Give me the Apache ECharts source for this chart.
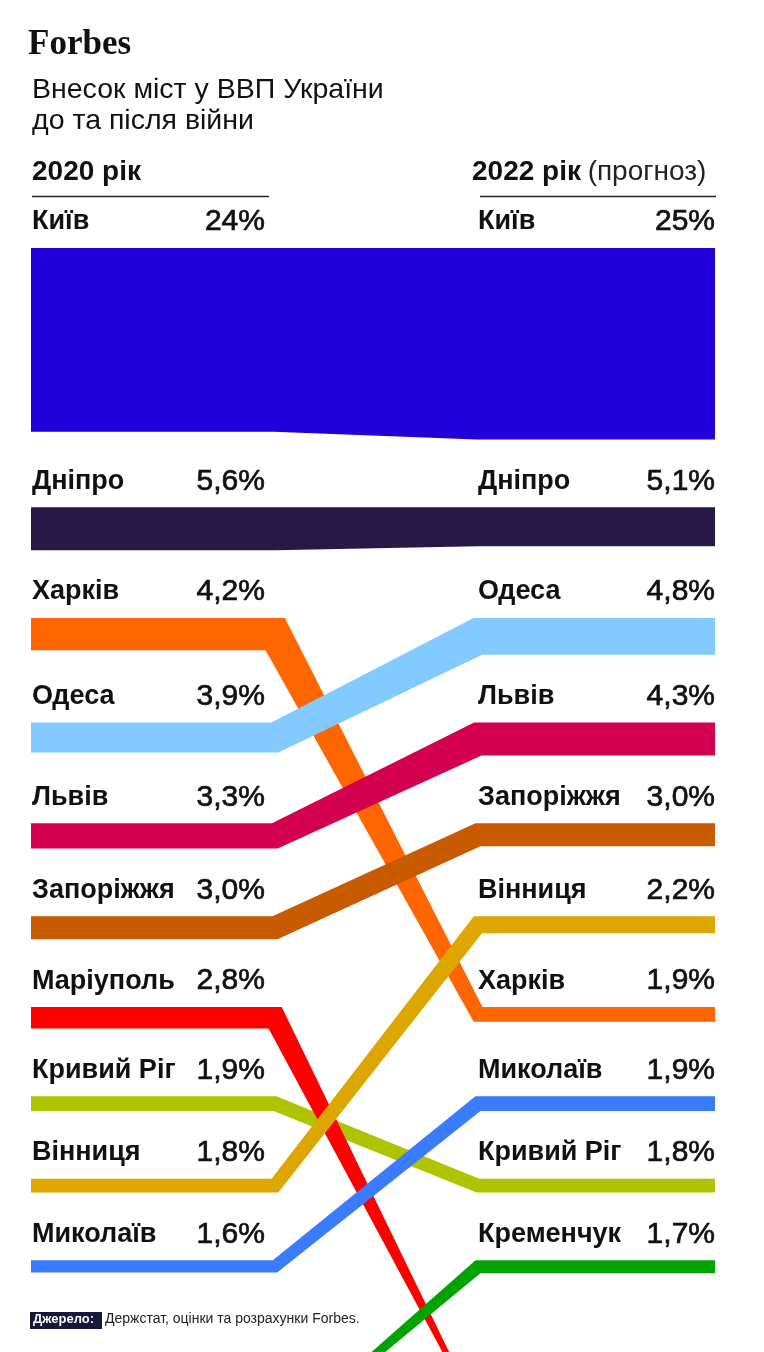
<!DOCTYPE html>
<html>
<head>
<meta charset="utf-8">
<script src="https://cdn.jsdelivr.net/npm/echarts@6/dist/echarts.min.js"></script>
<style>
html,body{margin:0;padding:0;background:#ffffff;}
#chart{width:764px;height:1352px;}
</style>
</head>
<body>
<div id="chart"></div>
<script>
// ---------------- DATA ----------------
const cities    = ['Київ','Дніпро','Харків','Одеса','Львів','Запоріжжя','Маріуполь','Кривий Ріг','Вінниця','Миколаїв','Кременчук'];
// share of Ukraine's GDP, %
const share2020 = [24, 5.6, 4.2, 3.9, 3.3, 3.0, 2.8, 1.9, 1.8, 1.6, 0.6];   // Кременчук 2020: not labelled, estimated from band width
const share2022 = [25, 5.1, 1.9, 4.8, 4.3, 3.0, 0.4, 1.8, 2.2, 1.9, 1.7];   // Маріуполь 2022: not labelled, estimated from band width
// position in the top-10 list (null = not in list, band runs off the chart)
const rank2020  = [1, 2, 3, 4, 5, 6, 7, 8, 9, 10, null];
const rank2022  = [1, 2, 7, 3, 4, 5, null, 9, 6, 8, 10];
const yearLabels = ['2020 рік', '2022 рік'];

// ---------------- STYLE / LAYOUT ----------------
const cityColors = {
  'Київ':'#2200D9','Дніпро':'#281846','Харків':'#FF6600','Одеса':'#82CAFF','Львів':'#D2004F',
  'Запоріжжя':'#C85A00','Маріуполь':'#FF0000','Кривий Ріг':'#AEC400','Вінниця':'#DDA600',
  'Миколаїв':'#3A7BFF','Кременчук':'#00A300'
};
// drawing order (later = on top)
const drawOrder = ['Київ','Дніпро','Харків','Кривий Ріг','Маріуполь','Одеса','Львів','Запоріжжя','Вінниця','Миколаїв','Кременчук'];

const PX_PER_UNIT = 7.66;     // pixels per 1 percentage point of band thickness
const GAP = 8.85;             // space (in % units) between consecutive bands for labels
const OFF_EXTRA = 3.2;        // extra drop for bands entering from below the list
const GRID_TOP = 248, GRID_LEFT = 31, GRID_RIGHT = 49;
const BEND_L = 35.67, BEND_R = 65.35;   // x-axis positions (0..100) where bands start/finish crossing
const PCT_L_X = 34.2, NAME_R_X = 65.35, PCT_R_X = 100;
const LABEL_RISE = 26;        // px from band top up to label middle
const NAME_FONT = 'bold 27px "Liberation Sans", Arial, sans-serif';
const PCT_FONT = '30px "Liberation Sans", Arial, sans-serif';

// ---------------- LAYOUT FROM DATA ----------------
const n = cities.length;
const maxRank = 10;
const slotOccL = [], slotOccR = [];
for (let i = 0; i < n; i++) {
  if (rank2020[i] != null) slotOccL[rank2020[i]-1] = i;
  if (rank2022[i] != null) slotOccR[rank2022[i]-1] = i;
}
const slotTop = [0];
for (let k = 0; k < maxRank; k++) {
  const a = slotOccL[k] != null ? share2020[slotOccL[k]] : 0;
  const b = slotOccR[k] != null ? share2022[slotOccR[k]] : 0;
  slotTop.push(slotTop[k] + Math.max(a, b) + GAP);
}
// off-list slot (below the visible list)
const offL = [], offR = [];
for (let i = 0; i < n; i++) { if (rank2020[i] == null) offL.push(share2020[i]); if (rank2022[i] == null) offR.push(share2022[i]); }
const offTop = slotTop[maxRank] + Math.max(...offL, ...offR) + GAP;

function fmt(v) { return (v >= 10 ? String(v) : v.toFixed(1).replace('.', ',')) + '%'; }

const bandData = drawOrder.map(name => {
  const i = cities.indexOf(name);
  const tL = rank2020[i] != null ? slotTop[rank2020[i]-1] : offTop + OFF_EXTRA;
  const tR = rank2022[i] != null ? slotTop[rank2022[i]-1] : offTop;
  return { name, value: [i, tL, share2020[i], tR, share2022[i]] };
});

const yMax = (1352 - GRID_TOP) / PX_PER_UNIT;

// ---------------- GEOMETRY HELPERS ----------------
function offsetLine(P, Q, wp, wq, s) {
  const dx = Q[0]-P[0], dy = Q[1]-P[1], len = Math.hypot(dx, dy) || 1;
  const nx = -dy/len, ny = dx/len;
  return [[P[0]+s*nx*wp/2, P[1]+s*ny*wp/2], [Q[0]+s*nx*wq/2, Q[1]+s*ny*wq/2]];
}
function intersect(l1, l2, lim) {
  const [p1,p2] = l1, [p3,p4] = l2;
  const d = (p1[0]-p2[0])*(p3[1]-p4[1]) - (p1[1]-p2[1])*(p3[0]-p4[0]);
  const mid = [(p2[0]+p3[0])/2, (p2[1]+p3[1])/2];
  if (Math.abs(d) < 1e-9) return mid;
  const t = ((p1[0]-p3[0])*(p3[1]-p4[1]) - (p1[1]-p3[1])*(p3[0]-p4[0]))/d;
  const r = [p1[0]+t*(p2[0]-p1[0]), p1[1]+t*(p2[1]-p1[1])];
  if (Math.hypot(r[0]-mid[0], r[1]-mid[1]) > lim) return mid;
  return r;
}

function labelPair(name, pct, xN, xP, y) {
  return [
    { type: 'text', z2: 50, style: { text: name, x: xN, y, font: NAME_FONT, fill: '#111', textAlign: 'left', textVerticalAlign: 'middle' } },
    { type: 'text', z2: 50, style: { text: pct, x: xP, y, font: PCT_FONT, fill: '#111', stroke: '#111', lineWidth: 0.7, textAlign: 'right', textVerticalAlign: 'middle' } }
  ];
}

function renderBand(params, api) {
  const i = api.value(0);
  const tL = api.value(1), vL = api.value(2), tR = api.value(3), vR = api.value(4);
  const cL = tL + vL/2, cR = tR + vR/2;
  const A = api.coord([0, cL]), B = api.coord([BEND_L, cL]), C = api.coord([BEND_R, cR]), D = api.coord([100, cR]);
  const wL = Math.abs(api.size([0, vL])[1]), wR = Math.abs(api.size([0, vR])[1]);
  const lim = 4 * Math.max(wL, wR) + 2;
  const side = s => {
    const L1 = offsetLine(A, B, wL, wL, s), L2 = offsetLine(B, C, wL, wR, s), L3 = offsetLine(C, D, wR, wR, s);
    return [L1[0], intersect(L1, L2, lim), intersect(L2, L3, lim), L3[1]];
  };
  const pts = side(1).concat(side(-1).reverse());
  const color = cityColors[cities[i]];
  let children = [{ type: 'polygon', shape: { points: pts }, style: { fill: color }, z2: 1 }];

  const name = cities[i];
  if (rank2020[i] != null) {
    const p = api.coord([0, tL]);
    children = children.concat(labelPair(name, fmt(share2020[i]), p[0] + 1, api.coord([PCT_L_X, tL])[0], p[1] - LABEL_RISE));
  }
  if (rank2022[i] != null) {
    const p = api.coord([NAME_R_X, tR]);
    children = children.concat(labelPair(name, fmt(share2022[i]), p[0], api.coord([PCT_R_X, tR])[0], p[1] - LABEL_RISE));
  }
  return { type: 'group', children };
}

// ---------------- CHART ----------------
const chart = echarts.init(document.getElementById('chart'), null, { renderer: 'canvas' });
chart.setOption({
  animation: false,
  backgroundColor: '#ffffff',
  grid: { left: GRID_LEFT, right: GRID_RIGHT, top: GRID_TOP, bottom: 0 },
  xAxis: { type: 'value', min: 0, max: 100, show: false },
  yAxis: { type: 'value', min: 0, max: yMax, inverse: true, show: false },
  graphic: [
    { type: 'text', left: 28, top: 27, style: { text: 'Forbes', font: 'bold 35px "Liberation Serif", "Times New Roman", serif', fill: '#111', letterSpacing: -2 } },
    { type: 'text', left: 32, top: 75, style: { text: 'Внесок міст у ВВП України\nдо та після війни', font: '28.5px "Liberation Sans", Arial, sans-serif', fill: '#111', lineHeight: 31 } },
    { type: 'text', left: 32, top: 158, style: { text: yearLabels[0], font: 'bold 28px "Liberation Sans", Arial, sans-serif', fill: '#111' } },
    { type: 'text', left: 472, top: 158, style: { rich: { b: { font: 'bold 28px "Liberation Sans", Arial, sans-serif', fill: '#111' }, r: { font: '28px "Liberation Sans", Arial, sans-serif', fill: '#222' } }, text: '{b|' + yearLabels[1] + '}  {r|(прогноз)}' } },
    { type: 'line', shape: { x1: 32, y1: 196.5, x2: 269, y2: 196.5 }, style: { stroke: '#222', lineWidth: 1.5 } },
    { type: 'line', shape: { x1: 480, y1: 196.5, x2: 716, y2: 196.5 }, style: { stroke: '#222', lineWidth: 1.5 } },
    { type: 'rect', shape: { x: 30, y: 1312, width: 72, height: 17 }, style: { fill: '#17173a' }, z: 100 },
    { type: 'text', left: 33, top: 1313, z: 101, style: { text: 'Джерело:', font: 'bold 13px "Liberation Sans", Arial, sans-serif', fill: '#ffffff' } },
    { type: 'text', left: 105, top: 1312, z: 101, style: { text: 'Держстат, оцінки та розрахунки Forbes.', font: '14px "Liberation Sans", Arial, sans-serif', fill: '#222' } }
  ],
  series: [{
    type: 'custom',
    coordinateSystem: 'cartesian2d',
    clip: false,
    renderItem: renderBand,
    data: bandData,
    z: 2
  }]
});
</script>
</body>
</html>
